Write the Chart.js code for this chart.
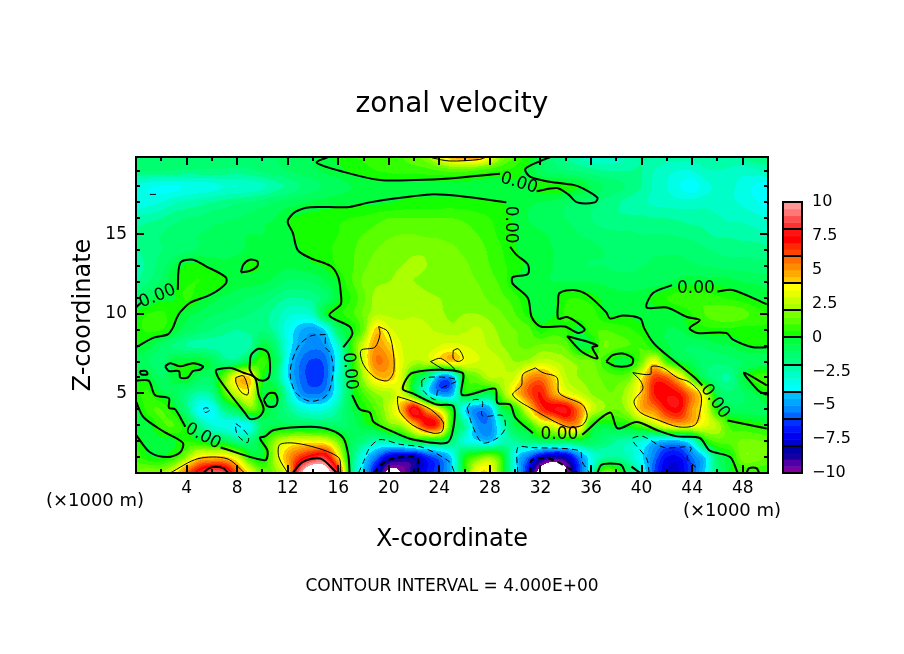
<!DOCTYPE html>
<html>
<head>
<meta charset="utf-8">
<title>zonal velocity</title>
<script src="https://cdn.jsdelivr.net/npm/chart.js@4/dist/chart.umd.min.js"></script>
<style>
  html, body { margin: 0; background: #fff; }
  canvas { display: block; }
</style>
</head>
<body>
<canvas id="chart" width="904" height="654"></canvas>
<script>
// Tick labels
const xTickLabels = [4, 8, 12, 16, 20, 24, 28, 32, 36, 40, 44, 48];
const zTickLabels = [5, 10, 15];
const barTickLabels = [10, 7.5, 5, 2.5, 0, -2.5, -5, -7.5, -10];
const barSeparators = [-8, -6, -4, -2, 0, 2, 4, 6, 8];

// Velocity, one row per km of height, one value per km along x (0..50)
const velocityRows = [
  [1.5,2,2,3.4,6,7.8,9,8.6,6,3.6, 1.4,1.8,4,9.5,12,11,7.5,-1,-4.2,-7.5, -10.5,-10,-8.5,-7,-6,-4,.3,3.8,3.8,.5, -3.5,-7,-11,-12,-10.5,-6.5,-3,1.5,1.2,-1, -3,-6,-7.5,-7.5,-6,-4,-1.5,-.1,.5,.6,.5],
  [.8,.1,.05,.6,2,4,4.2,4.2,3,.4, -.1,2.5,4.8,6.6,7.8,8,4,-1,-3.5,-5.5, -7.5,-8,-8,-6.5,-5.5,-3.8,0,1.2,2,.3, -3.6,-5.5,-7.5,-8.5,-8,-5.5,-3.4,-2.2,-2,-2.5, -3.8,-5.5,-7,-7,-5.5,-4,-1,.05,1.8,1.8,1.4],
  [.3,-.2,-.2,-.05,.5,.1,-.5,-.6,-1.6,-1.4, .05,2,3,3.4,3.4,3.2,1.5,-.6,-1.6,-2.4, -2.2,-1.6,-.3,-.4,-.4,-1.5,-3,-3.8,-4.2,-2.5, -2,-1.4,-1,-.8,-.8,-.6,-.8,-1.4,-2,-2.4, -3,-4,-4.4,-4.3,-3,.05,1.2,1.2,1.6,1.6,1.4],
  [-.4,-.2,.8,1,-.05,-1.8,-3,-3.2,-3.6,-3.2, -1,-.6,-.7,-.8,-.9,-1,-1.2,-.9,-.2,.3, 1.6,2.2,4.4,7,6.2,.2,-2,-5,-5.2,-2.6, -.4,.3,2.4,3.2,5,4.6,.4,-.2,.05,.4, 1.2,2.4,3.8,4.4,4,3.2,2.4,.8,.6,.3,.1],
  [-.3,.8,1,.05,-1.6,-3.6,-3.6,-1.6,-.5,1.5, .3,-.8,-1.8,-2.8,-3.2,-3,-2,-.6,.2,1.2, 2.6,4.6,7.8,5,3,0,-3.8,-5.2,-4.6,-.5, .4,3.4,6.4,7.4,7.6,5.6,3,2,1.5,2.4, 4.6,5.4,7,7.2,5,3.4,.3,-.7,-.8,-.8,-.6],
  [.4,.6,-.3,-.7,-1.6,-2.2,-1.8,1,2.8,3.4, -.1,.1,-2.6,-5,-5.6,-5.1,-3,-.5,1,2, 2.4,3,.2,-3.2,-5,-4.6,.1,-.2,-.6,1.8, 4,6,7,5,3.6,2.8,2,1.6,1.6,2.6, 4.4,7,7.4,7,5.2,3,-.7,-1.4,-1,-.5,.3],
  [-.1,-.2,-1,-.3,.05,-.8,-.8,1.5,4,4, .3,-1.2,-3.9,-5.6,-6.2,-5.8,-3,-.5,2.2,4.2, 4.4,3,.05,-1.5,-5,-4.8,.5,1.5,2.5,2.5, 3,5,5.6,4.2,2.6,2,1.8,1.4,1.2,1.6, 3.8,6.4,6,4,1,-.9,-1.8,-2,-.4,.7,1],
  [-.6,-1,-1.3,-.2,-.1,-.05,-.6,-1.6,-1.5,-.2, .7,-.6,-3.8,-5.5,-6.1,-5.7,-3.3,-.2,3,5.5, 5,3.2,2.4,2.6,3.4,4.2,3.4,3,2.8,2.5, 2,2.2,2.8,2.6,2.2,1.8,1.6,.8,-.1,-.1, 1.5,3.6,.8,-.2,-.7,-1.2,-1.4,-1.2,-1,-.9,-.9],
  [-.05,-.3,-1,-1.6,-2,-2.2,-2.2,-2.3,-2.4,-2.2, -.3,-1.3,-3.4,-4.8,-5.3,-4.9,-2.8,.5,3,5, 4.2,3,2.6,2.6,3,3.2,3,2.8,2.4,2, 1.6,1.4,1.6,1.6,1.3,-.2,-.1,1.5,1.2,1, .9,0,-.4,-.9,-1,-.9,-.6,-.5,-.1,.05,.05],
  [.3,.6,.5,-.1,-.8,-1.2,-1.5,-1.8,-2,-1.8, -1.6,-2.2,-3.4,-4.4,-4.8,-3.8,-1,0,1.5,4.2, 3.2,2.7,2.9,2.6,2.4,2.2,2.4,2.6,2.2,1.8, 1.5,1.2,.3,.7,.5,-.2,.8,1,.8,.6, .2,-.2,-.5,-.5,.05,.3,.4,.4,.3,.4,.4],
  [.2,.5,.6,.2,-.3,-.6,-.9,-1.1,-1.3,-1.5, -1.7,-2.2,-2.8,-3,-2.6,-.2,.3,.8,1.6,2.4, 2.4,2.4,2.4,2.3,2.1,1.9,2,2,1.8,1.5, 1,.3,-.3,-.1,.6,.8,.8,.05,-.1,-.1, -.3,-.2,-.2,-.05,.5,1,1.3,1.4,1.2,.8,.5],
  [-1,-.6,-.2,-.05,.6,.1,-.3,-.6,-.8,-1, -1.2,-1.6,-2,-2,-1.8,-1.2,-.1,.5,1.4,2.2, 2.3,2.4,2.3,2.1,2,1.9,1.9,1.7,1.4,1.1, .7,0,-.3,-.1,.4,.5,.2,-.1,-.3,-.3, -.2,.1,.5,.8,.9,.8,.6,.4,.2,-.05,-.2],
  [-2,-1.5,-.9,-.1,.4,.5,.3,.1,-.3,-.3, -.4,-.7,-1.1,-1.1,-1,-.5,.05,.9,1.6,1.9, 2,2.1,2,1.9,1.8,1.7,1.7,1.5,1.2,.8, -.05,-.3,-.4,-.5,-.5,-.5,-.5,-.6,-.7,-.8, -.8,-.7,-.6,-.3,-.2,-.2,-.2,-.3,-.5,-.6,-.7],
  [-2.2,-1.8,-1.2,-.5,.1,.2,-.1,-.3,-.2,.1, -.05,-.3,-.4,-.3,-.1,.1,.6,.9,1.4,1.7, 1.9,2,2.1,2,1.9,1.7,1.6,1.3,1,.6, .3,-.1,-.3,-.5,-.6,-.9,-1,-1,-1.1,-1.1, -1,-.9,-.8,-.8,-.9,-1,-1.1,-1.2,-1.2,-1.3,-1.3],
  [-2,-1.8,-1.5,-1.3,-1.1,-.9,-.8,-.7,-.6,-.4, -.4,-.4,-.3,0,.2,.4,.6,.9,1.2,1.5, 1.7,1.8,1.9,1.9,1.7,1.6,1.4,1.2,.9,.5, .05,-.2,-.4,-.5,-.7,-.8,-.9,-1,-1.1,-1.2, -1.2,-1.1,-1.1,-1.1,-1.2,-1.4,-1.6,-1.7,-1.7,-1.7,-1.8],
  [-1.8,-1.6,-1.5,-1.3,-1.1,-1,-.9,-.8,-.6,-.5, -.5,-.4,-.1,.1,.3,.4,.5,.8,1,1.2, 1.4,1.5,1.5,1.4,1.4,1.3,1.2,1,.7,.3, 0,-.2,-.4,-.6,-.7,-1,-1.1,-1.3,-1.4,-1.4, -1.5,-1.5,-1.5,-1.6,-1.7,-1.9,-2.1,-2.1,-2.2,-2.3,-2.5],
  [-2.4,-2.2,-2,-1.7,-1.5,-1.4,-1.2,-1.1,-1,-.8, -.6,-.5,-.05,.1,.2,.3,.4,.5,.6,.8, 1,1,1,1,1,1,.9,.7,.5,.2, -.1,-.5,-.8,-.9,-1,-1.2,-1.5,-1.8,-1.9,-1.9, -1.9,-2,-2,-2.1,-2.2,-2.2,-2.4,-2.6,-2.6,-2.8,-3],
  [-3.4,-3.2,-3,-2.6,-2.4,-2.2,-2,-1.8,-1.6,-1.5, -1.3,-1,-.8,-.6,-.4,-.3,-.2,-.15,-.1,-.1, -.05,.1,.2,.2,.2,.2,.2,.1,.1,.05, -.3,-.4,-.5,-.6,-.9,-1.1,-1.3,-1.6,-1.9,-2.2, -2.4,-2.6,-2.7,-2.8,-2.8,-2.7,-2.8,-2.9,-3.1,-3.4,-3.8],
  [-3.2,-3.4,-3.6,-3.6,-3.4,-3.3,-3.2,-3,-3,-2.8, -2.6,-2.2,-1.9,-1.5,-1.2,-.9,-.7,-.5,-.3,-.2, -.2,-.2,-.2,-.2,-.2,-.2,-.2,-.3,-.3,-.3, -.2,-.1,.2,.3,.2,0,-.6,-1,-1.3,-1.6, -2,-2.6,-3,-3.5,-3.8,-3.2,-2.9,-2.9,-3.2,-3.6,-3.9],
  [-1.5,-1.5,-1.5,-1.5,-1.6,-1.6,-1.6,-1.6,-1.7,-1.6, -1.4,-1.2,-1,-.8,-.6,-.4,-.2,.1,.3,.5, .6,.7,.7,.8,1,1.2,1.2,1,.7,.5, .3,-.2,-.8,-1.2,-1.4,-1.6,-1.8,-2,-2,-2, -2,-2.5,-2.8,-3,-3,-2.6,-2.5,-2.6,-2.8,-2.6,-2.4],
  [-1.2,-1.2,-1.2,-1.2,-1.2,-1.2,-1,-1,-1,-1, -1,-1,-.8,-.8,-.5,-.2,.2,.5,.6,.8, 1,1,1.5,2,3.5,5,5.5,5.5,4,2, 1,.3,-.5,-1.5,-2,-2.5,-3,-3.2,-3,-2.5, -2,-2,-2.2,-2.2,-2.2,-2,-2,-2,-1.8,-1.5,-1.5]
];

// Contours as [x, z] pairs in km: zero level (thick), +4 (thin), +8 (thick), -4 and -8 (dashed)
const zeroContours = [
  [[15.4,19.9],[14.3,19.5],[16.5,18.9],[19.3,18.4],[22.1,18.4],[24.8,18.5],[28.8,18.8]],
  [[31.7,17.7],[33.3,17.9],[34.2,17.5],[34.9,17],[36.3,17],[36.5,17.3],[35.3,17.9],[34.6,18.1],[32.7,18.3],[31.2,18.6],[30.8,19.1],[32,19.6],[33,19.9]],
  [[29.3,17],[25.6,17.4],[23.3,17.5],[21.1,17.3],[18.5,17],[16.7,16.7],[13.8,16.7],[12.6,16.4],[12,15.8],[12.4,15.1],[12.8,14],[13.8,13.5],[15.4,13],[16,12.3],[16.2,11.3],[16.2,10.6],[15.3,9.9],[16.9,9.2],[17.1,8.7],[16.4,7.9]],
  [[17.1,4.9],[17.7,4],[18.5,3.8],[18.8,3.2],[20.3,2.6],[21.9,2.1],[24.6,1.9],[25.1,2.8],[25.1,4.2],[23.8,4.3],[21.9,5],[21.1,5.3],[21.9,6.3],[25.8,6.3],[25.8,4.9],[28.4,5.3],[28.6,4.4],[29.6,4.3],[30,3.5],[31.4,2.5]],
  [[29.6,14.2],[30.1,13.7],[31,13.1],[31,12.5],[29.8,12.3],[29.8,11.9],[31,11],[31.3,9.8],[32,9.2],[33.9,9.2],[35,8.8],[35.5,9],[35,9.4],[34.1,9.8],[33.4,9.7],[33.4,10.7],[33.5,11.3],[34.6,11.5],[35.7,11.2],[37.2,10.1],[37.5,9.7],[38.5,9.9],[39.9,9.7],[40.2,9.1],[40.9,8.2],[41.7,7.6],[44.2,6],[44.8,5.5]],
  [[49.9,10.6],[47.2,11.5],[46,11.4]],
  [[42.4,11.8],[40.9,11.3],[40.4,10.4],[42,10.4],[43.6,9.8],[44.6,9.6],[43.8,9.1],[44.4,8.8],[46.7,8.8],[47.2,8.4],[48.8,7.9],[49.9,7.9]],
  [[0,10.4],[.4,10.7]],
  [[3.3,11.5],[3.5,13.2],[4.5,13.4],[5.5,13],[7.1,12.3],[7.1,11.9],[5.9,11.2],[4.3,10.7],[3.5,10.1],[3.2,9.7],[2.9,9.1],[2.5,8.7],[1.4,8.5],[0,7.9]],
  [[8.3,12.6],[8.5,13.1],[9,13.4],[9.6,13.3],[9.6,13],[9,12.7],[8.3,12.6]],
  [[2.3,6.7],[2.7,6.9],[3.5,6.7],[4.5,6.9],[5.3,6.7],[5.1,6.5],[4.5,6.4],[4.1,6],[3.5,6],[3.4,6.4],[2.6,6.4],[2.3,6.7]],
  [[.3,6.4],[.8,6.4],[.9,6.2],[.4,6.2],[.3,6.4]],
  [[0,5.8],[1,5.8],[1.5,4.9],[2.6,4.7],[2.6,4.1],[3.1,4],[3.7,3.2],[3.9,2.9]],
  [[0,4.5],[.6,3.5],[2.2,2.6],[3.7,1.9],[3.5,1.3],[2.5,1],[1.1,1.3],[0,2.4]],
  [[6.3,6.4],[6.4,6.5],[7.5,6.6],[8.5,6.3],[9.4,6],[9.7,4.9],[10.1,4],[9.7,3.5],[9,3.4],[8.6,3.8],[7.5,4.9],[6.5,6],[6.3,6.4]],
  [[9,6.8],[9.1,7.4],[9.7,7.8],[10.4,7.6],[10.6,6.9],[10.5,6],[10,5.8],[9.4,6],[9,6.5],[9,6.8]],
  [[10.1,4.6],[10.5,5],[11,5],[11.2,4.6],[11,4.2],[10.4,4.2],[10.1,4.6]],
  [[6.7,1.6],[10.2,.8],[10.4,1.4],[9.8,2.2],[10.2,2.3],[10.9,2.7],[13.8,2.9],[15.4,2.7],[16.4,2.2],[16.8,1.1],[16.9,0]],
  [[35.3,2.4],[37.5,3.8],[38.1,2.8],[39.6,3.2],[41.2,2.7],[42.8,2.3],[44.6,2.2],[45.4,1.4],[47,1],[47.6,0]],
  [[46.8,3.3],[49.9,2.8]],
  [[49.9,5.5],[48.1,6.3],[49.2,5.2],[49.9,4.9]],
  [[37.2,7],[37.7,7.4],[38.5,7.5],[39.3,7.2],[39.2,6.8],[38,6.7],[37.2,7]],
  [[34.1,8.6],[35.9,8.2],[36.5,8],[36.1,7.9],[36.5,7.2],[35.3,7.6],[34.1,8.6]],
  [[36.5,0],[36.8,.5],[37.5,.6],[38.4,.5],[38.7,0]],
  [[39.2,.4],[39.9,0]],
  [[48.3,0],[48.5,.3],[49.1,.3],[49.3,0]]
];
const plusFourContours = [
  [[23.4,19.8],[24.8,19.6],[27.2,19.7],[27.8,19.9]],
  [[19.2,9.2],[19.9,8.9],[20.3,7.9],[20.4,6.4],[19.9,5.8],[18.9,6],[18,6.8],[17.8,7.7],[18.9,7.9],[19.3,8.7],[19.2,9.2]],
  [[7.9,6],[8.5,6.1],[8.9,5.2],[8.8,4.9],[8.3,5.1],[7.9,5.7],[7.9,6]],
  [[25.1,7.7],[25.5,7.8],[25.9,7.2],[25.5,7],[25.1,7.2],[25.1,7.7]],
  [[23.3,7],[24.1,7.2],[25.2,6.5],[24.4,6.5],[23.3,7]],
  [[20.7,4.8],[20.7,4.4],[20.9,3.8],[21.9,3],[23.5,2.5],[24.2,2.6],[24.3,3.2],[23.3,4],[21.9,4.5],[20.7,4.8]],
  [[31.6,6.6],[30.6,6.2],[30.5,5.5],[29.8,4.9],[31.4,4],[34.1,2.9],[35.3,3],[35.7,3.6],[35.3,4.3],[33.5,5],[33.3,6],[32.2,6.3],[31.6,6.6]],
  [[39.3,6.3],[40.7,6.2],[40.8,6.7],[41.7,6.6],[42.8,6],[43.8,5.7],[44.7,4.9],[44.6,3.8],[44.2,3],[42.9,2.9],[41.4,3.3],[39.9,3.8],[39.4,4.5],[40.1,5.3],[39.9,5.8],[39.3,6.3]],
  [[2.7,0],[4.9,.9],[7.2,.9],[8.6,0]],
  [[12,0],[11.3,1],[11.4,1.8],[13.2,1.8],[16,1],[16.2,0]]
];
const plusEightContours = [
  [[5.3,0],[5.8,.3],[6.3,.4],[6.9,.3],[7.3,0]],
  [[12.4,0],[13.2,.7],[14.6,.9],[15.9,0]]
];
const minusFourContours = [
  [[1.1,17.5],[1.6,17.5]],
  [[15,8.7],[13.8,8.6],[12.8,7.9],[12.2,6.4],[12.6,5.1],[13.8,4.5],[15.1,4.9],[15.6,6.4],[15.4,7.5],[15,7.9],[15,8.7]],
  [[5.3,4],[5.5,4.1],[5.9,4],[5.5,3.8],[5.3,4]],
  [[7.9,3.1],[8.4,2.8],[8.9,2.3],[8.8,1.9],[8.1,2.3],[7.9,2.7],[7.9,3.1]],
  [[22.6,5.8],[22.7,5.2],[23.7,4.6],[23.9,5.2],[25.4,5.8],[24.6,6],[23,6],[22.6,5.8]],
  [[26.2,4.1],[26.6,3],[27.4,1.9],[28.6,2.2],[29.2,2.8],[29,3.6],[27.4,3.6],[27.4,4.5],[26.7,4.6],[26.2,4.1]],
  [[17.6,0],[18,.7],[18.5,1.6],[19.3,2.1],[20.9,1.8],[22.7,1.6],[24.8,.7],[25.2,0]],
  [[30.2,0],[30.2,1.6],[31.2,1.6],[35.1,1.4],[35.3,.7],[35.9,0]],
  [[40.6,0],[40.4,.9],[39.3,2],[39.3,2.2],[40.1,2.3],[41.8,1.6],[43.9,1.6],[43.6,.9],[44.4,.3]]
];
const minusEightContours = [
  [[18.8,0],[19.9,.8],[22.2,1],[22.3,0]],
  [[31.2,0],[31.3,.8],[32.7,.9],[34.9,0]]
];

// "0.00" labels sitting in the gaps of the zero contours
const labelX = [30.3, 29.6, 44.3, 1.7, 5.3, 16.9, 33.5, 45.8];
const labelZ = [18.2, 15.6, 11.6, 11.1, 2.3, 6.4, 2.4, 4.5];
const labelAngle = [17, 90, 0, -22, 28, 85, 0, 55];

// 40 colour bands of 0.5, from -10 up to 10
const bandColors = [
  [125,0,160],[80,0,165],[20,0,160],[0,0,170],
  [0,0,210],[0,0,240],[0,20,255],[0,50,255],
  [0,100,255],[0,140,255],[0,165,255],[0,190,255],
  [0,255,255],[0,255,230],[0,255,200],[0,255,170],
  [0,255,130],[0,255,110],[0,255,90],[0,255,60],
  [20,255,0],[50,255,0],[90,255,0],[120,255,0],
  [170,255,0],[200,255,0],[230,255,0],[255,255,0],
  [255,200,0],[255,170,0],[255,140,0],[255,110,0],
  [255,70,0],[255,40,0],[255,0,0],[255,20,20],
  [255,50,50],[255,80,80],[255,120,120],[255,150,150]
];

const FONT = '"DejaVu Sans", sans-serif';

function cubic(a, b, c, d, t) {
  return b + 0.5 * t * (c - a + t * (2 * a - 5 * b + 4 * c - d + t * (3 * (b - c) + d - a)));
}

function clampIndex(i, n) {
  return Math.max(0, Math.min(n - 1, i));
}

// smooth reading of the grid at (x, z), only used for painting
function sampleField(x, z) {
  const nx = velocityRows[0].length, nz = velocityRows.length;
  const i = Math.floor(x), j = Math.floor(z);
  const tx = x - i, tz = z - j;
  const vals = [];
  for (let r = -1; r <= 2; r++) {
    const row = velocityRows[clampIndex(j + r, nz)];
    vals.push(cubic(row[clampIndex(i - 1, nx)], row[clampIndex(i, nx)], row[clampIndex(i + 1, nx)], row[clampIndex(i + 2, nx)], tx));
  }
  return cubic(vals[0], vals[1], vals[2], vals[3], tz);
}

let fieldCanvas = null;
function buildField(chart) {
  const area = chart.chartArea;
  const w = Math.round(area.right - area.left), h = Math.round(area.bottom - area.top);
  fieldCanvas = document.createElement('canvas');
  fieldCanvas.width = w;
  fieldCanvas.height = h;
  const c = fieldCanvas.getContext('2d');
  const img = c.createImageData(w, h);
  const xs = [], zs = [];
  for (let px = 0; px < w; px++) xs.push(chart.scales.x.getValueForPixel(area.left + px + 0.5));
  for (let py = 0; py < h; py++) zs.push(chart.scales.y.getValueForPixel(area.top + py + 0.5));
  let k = 0;
  for (let py = 0; py < h; py++) {
    for (let px = 0; px < w; px++) {
      const v = sampleField(xs[px], zs[py]);
      const band = Math.floor((v + 10) / 0.5);
      const col = band >= 0 && band < bandColors.length ? bandColors[band] : [255, 255, 255];
      img.data[k++] = col[0];
      img.data[k++] = col[1];
      img.data[k++] = col[2];
      img.data[k++] = 255;
    }
  }
  c.putImageData(img, 0, 0);
}

const fieldPlugin = {
  id: 'field',
  beforeDatasetsDraw(chart) {
    if (!fieldCanvas) buildField(chart);
    chart.ctx.drawImage(fieldCanvas, chart.chartArea.left, chart.chartArea.top);
  }
};

function drawText(ctx, text, x, y, size, angle) {
  ctx.save();
  ctx.translate(x, y);
  if (angle) ctx.rotate(angle * Math.PI / 180);
  ctx.font = size + 'px ' + FONT;
  ctx.fillStyle = '#000';
  ctx.textAlign = 'center';
  ctx.textBaseline = 'middle';
  ctx.fillText(text, 0, 0);
  ctx.restore();
}

const framePlugin = {
  id: 'frame',
  afterDatasetsDraw(chart) {
    const ctx = chart.ctx, area = chart.chartArea;
    const xScale = chart.scales.x, yScale = chart.scales.y, barScale = chart.scales.bar;

    // contour labels
    labelX.forEach((x, i) => {
      drawText(ctx, '0.00', xScale.getPixelForValue(x), yScale.getPixelForValue(labelZ[i]), 17, labelAngle[i]);
    });

    // ticks point inwards on all four sides
    ctx.strokeStyle = '#000';
    ctx.lineWidth = 2;
    ctx.beginPath();
    xScale.ticks.forEach(t => {
      const px = Math.round(xScale.getPixelForValue(t.value));
      const len = t.value % 4 === 0 ? 8 : 4;
      ctx.moveTo(px, area.top); ctx.lineTo(px, area.top + len);
      ctx.moveTo(px, area.bottom); ctx.lineTo(px, area.bottom - len);
    });
    yScale.ticks.forEach(t => {
      const py = Math.round(yScale.getPixelForValue(t.value));
      const len = t.value % 5 === 0 ? 8 : 4;
      ctx.moveTo(area.left, py); ctx.lineTo(area.left + len, py);
      ctx.moveTo(area.right, py); ctx.lineTo(area.right - len, py);
    });
    ctx.stroke();
    ctx.strokeRect(area.left, area.top, area.right - area.left, area.bottom - area.top);

    // colour bar
    const barLeft = 783, barWidth = 19;
    bandColors.forEach((col, i) => {
      const low = -10 + i * 0.5;
      const top = barScale.getPixelForValue(low + 0.5), bottom = barScale.getPixelForValue(low);
      ctx.fillStyle = 'rgb(' + col.join(',') + ')';
      ctx.fillRect(barLeft, top, barWidth, bottom - top + 0.5);
    });
    ctx.beginPath();
    barSeparators.forEach(v => {
      const py = Math.round(barScale.getPixelForValue(v));
      ctx.moveTo(barLeft, py); ctx.lineTo(barLeft + barWidth, py);
    });
    ctx.stroke();
    const barTop = barScale.getPixelForValue(10), barBottom = barScale.getPixelForValue(-10);
    ctx.strokeRect(barLeft, barTop, barWidth, barBottom - barTop);

    // free text around the plot
    drawText(ctx, '(×1000 m)', 95, 501, 18);
    drawText(ctx, '(×1000 m)', 732, 511, 18);
    drawText(ctx, 'CONTOUR INTERVAL = 4.000E+00', 452, 587, 17);
  }
};

function lineDatasets(lines, width, dash) {
  return lines.map(pts => ({
    data: pts.map(p => ({ x: p[0], y: p[1] })),
    showLine: true,
    pointRadius: 0,
    borderColor: '#000',
    borderWidth: width,
    borderDash: dash,
    tension: 0.3
  }));
}

new Chart(document.getElementById('chart'), {
  type: 'scatter',
  data: {
    datasets: [
      ...lineDatasets(zeroContours, 2, []),
      ...lineDatasets(plusFourContours, 1, []),
      ...lineDatasets(plusEightContours, 2, []),
      ...lineDatasets(minusFourContours, 1, [6, 4]),
      ...lineDatasets(minusEightContours, 2, [6, 4])
    ]
  },
  options: {
    responsive: false,
    animation: false,
    devicePixelRatio: 1,
    layout: { padding: 0 },
    plugins: {
      legend: { display: false },
      tooltip: { enabled: false },
      title: {
        display: true,
        text: 'zonal velocity',
        color: '#000',
        font: { family: FONT, size: 28, weight: 'normal' },
        padding: { top: 88, bottom: 35.4 }
      }
    },
    scales: {
      x: {
        type: 'linear',
        min: 0,
        max: 50,
        afterFit: s => { s.height = 181; },
        grid: { display: false, drawTicks: false },
        border: { display: false },
        ticks: {
          stepSize: 2,
          includeBounds: false,
          autoSkip: false,
          maxRotation: 0,
          padding: 5,
          color: '#000',
          font: { family: FONT, size: 17 },
          callback: v => xTickLabels.includes(v) ? String(v) : ''
        },
        title: {
          display: true,
          text: 'X-coordinate',
          color: '#000',
          font: { family: FONT, size: 24 },
          padding: { top: 0, bottom: 100 }
        }
      },
      y: {
        type: 'linear',
        min: 0,
        max: 19.85,
        afterFit: s => { s.width = 136; },
        grid: { display: false, drawTicks: false },
        border: { display: false },
        ticks: {
          stepSize: 1,
          includeBounds: false,
          autoSkip: false,
          padding: 9,
          color: '#000',
          font: { family: FONT, size: 17 },
          callback: v => zTickLabels.includes(v) ? String(v) : ''
        },
        title: {
          display: true,
          text: 'Z-coordinate',
          color: '#000',
          font: { family: FONT, size: 24 },
          padding: { top: 69, bottom: 0 }
        }
      },
      bar: {
        type: 'linear',
        position: 'right',
        min: -10,
        max: 13.32,
        afterFit: s => { s.width = 136; },
        afterBuildTicks: s => { s.ticks = barTickLabels.map(v => ({ value: v })); },
        grid: { display: false, drawTicks: false },
        border: { display: false },
        ticks: {
          autoSkip: false,
          padding: 44,
          color: '#000',
          font: { family: FONT, size: 16 },
          callback: v => v < 0 ? '\u2212' + Math.abs(v) : String(v)
        }
      }
    }
  },
  plugins: [fieldPlugin, framePlugin]
});
</script>
</body>
</html>
